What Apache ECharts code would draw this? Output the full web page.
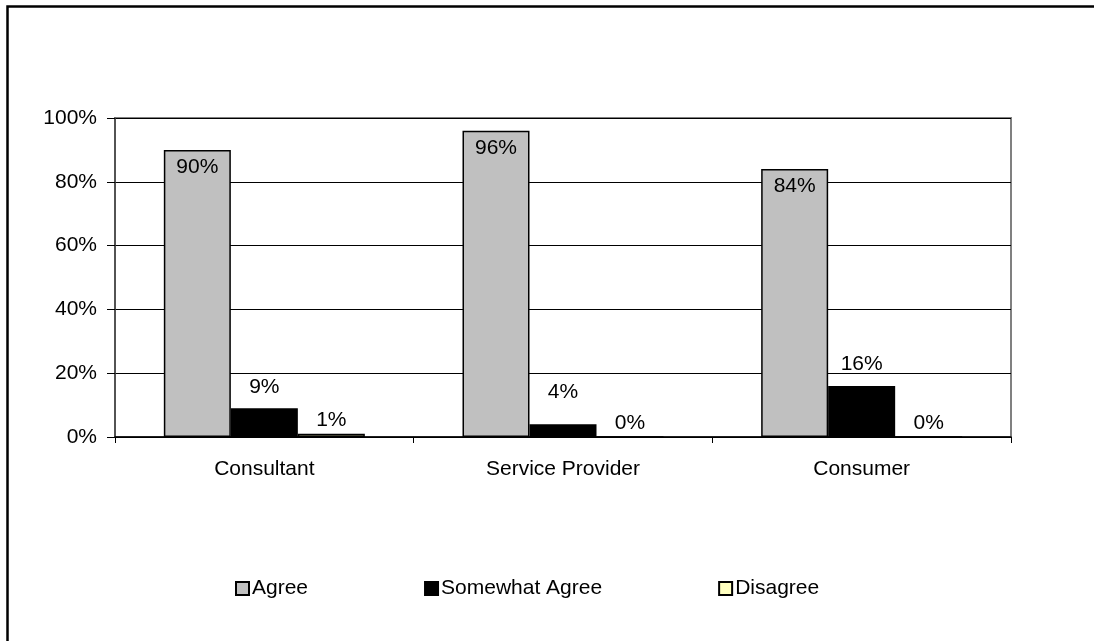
<!DOCTYPE html>
<html>
<head>
<meta charset="utf-8">
<style>
html,body{margin:0;padding:0;background:#fff;}
#chart{width:1094px;height:641px;}
</style>
<script src="https://cdn.jsdelivr.net/npm/echarts@6/dist/echarts.min.js"></script>
</head>
<body>
<div id="chart"></div>
<script>
const categories = ['Consultant', 'Service Provider', 'Consumer'];
const seriesNames = ['Agree', 'Somewhat Agree', 'Disagree'];
const agree = [90, 96, 84];
const somewhatAgree = [9, 4, 16];
const disagree = [1, 0, 0];
const yTicks = [0, 20, 40, 60, 80, 100];

const somewhatLabelDist = [11, 22, 11];

const chart = echarts.init(document.getElementById('chart'), null, {renderer: 'canvas'});
const font = 'Liberation Sans, Arial, sans-serif';
const fs = 21;
const labelStyle = {color: '#000', fontSize: fs, fontFamily: font, formatter: '{c}%'};

chart.setOption({
  animation: false,
  backgroundColor: '#fff',
  graphic: [{
    type: 'rect', left: 5, top: 4, z: 100, silent: true,
    shape: {width: 1200, height: 800},
    style: {fill: 'none', stroke: '#000', lineWidth: 2.5}
  }],
  grid: {
    left: 115, right: 83, top: 118, bottom: 204,
    show: true, borderColor: '#808080', borderWidth: 2, backgroundColor: '#fff'
  },
  legend: {
    left: 230, top: 573,
    itemWidth: 13, itemHeight: 13, itemGap: 116,
    icon: 'rect',
    textStyle: {color: '#000', fontSize: fs, fontFamily: font, padding: [0, 0, 0, -2]},
    data: seriesNames
  },
  xAxis: {
    type: 'category', data: categories,
    axisLine: {lineStyle: {color: '#000', width: 1.5}},
    axisTick: {show: true, length: 6, lineStyle: {color: '#000'}},
    axisLabel: {color: '#000', fontSize: fs, fontFamily: font, margin: 22}
  },
  yAxis: {
    type: 'value', min: yTicks[0], max: yTicks[yTicks.length - 1], interval: 20,
    axisLine: {show: true, lineStyle: {color: '#444', width: 1.5}},
    axisTick: {show: true, length: 8, lineStyle: {color: '#000'}},
    axisLabel: {color: '#000', fontSize: fs, fontFamily: font, margin: 18, formatter: '{value}%'},
    splitLine: {lineStyle: {color: '#000', width: 1}}
  },
  series: [
    {
      name: seriesNames[0], type: 'bar', data: agree, barWidth: 67, barGap: 0,
      itemStyle: {color: '#C0C0C0', borderColor: '#000', borderWidth: 1.5},
      label: Object.assign({show: true, position: 'insideTop', distance: 7}, labelStyle)
    },
    {
      name: seriesNames[1], type: 'bar', barWidth: 67, barGap: 0,
      data: somewhatAgree.map((v, i) => ({value: v, label: {distance: somewhatLabelDist[i]}})),
      itemStyle: {color: '#000', borderColor: '#000', borderWidth: 1.5},
      label: Object.assign({show: true, position: 'top'}, labelStyle)
    },
    {
      name: seriesNames[2], type: 'bar', data: disagree, barWidth: 67, barGap: 0,
      itemStyle: {color: '#FFFFC0', borderColor: '#000', borderWidth: 1.5},
      label: Object.assign({show: true, position: 'top', distance: 3}, labelStyle)
    }
  ]
});
</script>
</body>
</html>
